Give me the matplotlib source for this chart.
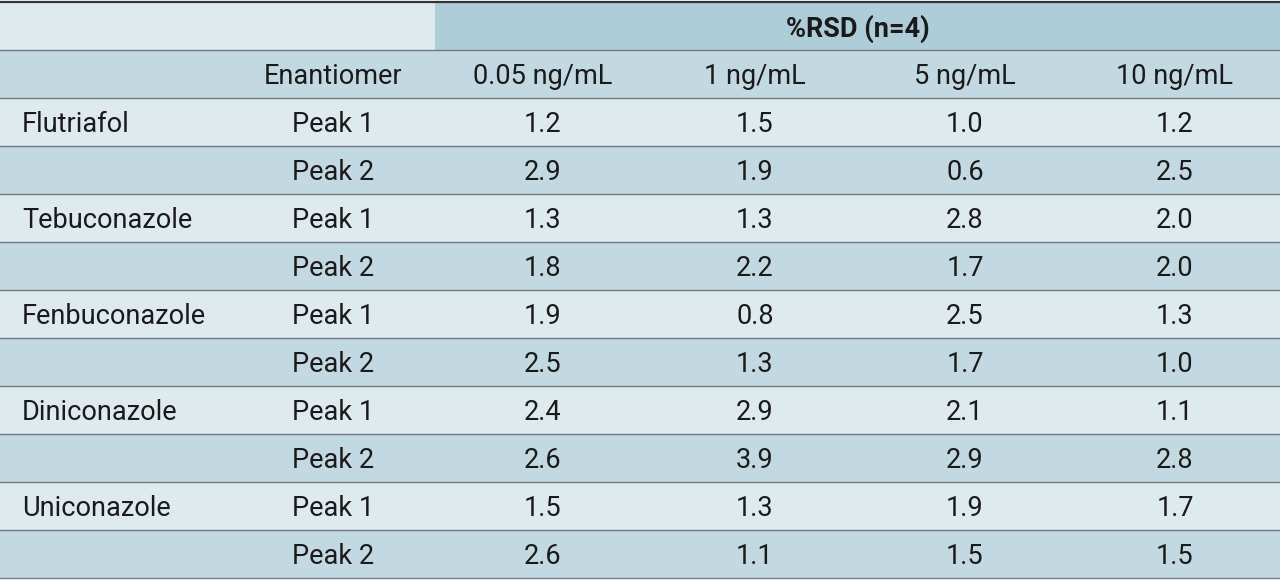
import matplotlib
matplotlib.use("Agg")
import matplotlib.pyplot as plt
import matplotlib.patches as mpatches

compounds = ["Flutriafol", "Tebuconazole", "Fenbuconazole", "Diniconazole", "Uniconazole"]
peaks = ["Peak 1", "Peak 2"]
concs = ["0.05 ng/mL", "1 ng/mL", "5 ng/mL", "10 ng/mL"]
rsd = [
    ["1.2", "1.5", "1.0", "1.2"],
    ["2.9", "1.9", "0.6", "2.5"],
    ["1.3", "1.3", "2.8", "2.0"],
    ["1.8", "2.2", "1.7", "2.0"],
    ["1.9", "0.8", "2.5", "1.3"],
    ["2.5", "1.3", "1.7", "1.0"],
    ["2.4", "2.9", "2.1", "1.1"],
    ["2.6", "3.9", "2.9", "2.8"],
    ["1.5", "1.3", "1.9", "1.7"],
    ["2.6", "1.1", "1.5", "1.5"],
]

LIGHT, MID, DARK = "#dfeaef", "#c3d9e1", "#adcdd8"
W, H = 1280, 582
top, rh = 2, 48
col_x = [435, 650, 860, 1070, 1280]
centers = [(a + b) / 2 for a, b in zip(col_x[:-1], col_x[1:])]
FS = 19.5

fig = plt.figure(figsize=(12.8, 5.82), dpi=100)
ax = fig.add_axes([0, 0, 1, 1])
ax.set_xlim(0, W)
ax.set_ylim(H, 0)
ax.axis("off")
plt.rcParams["font.family"] = ["Roboto", "DejaVu Sans"]


def yrow(i):
    return top + i * rh


def txt(x, i, s, ha="center"):
    ax.text(x, yrow(i) + rh / 2 + 3, s, ha=ha, va="center", fontsize=FS, color="#1a1a1a")


# header row 0
ax.add_patch(mpatches.Rectangle((0, yrow(0)), col_x[0], rh, color=LIGHT, lw=0))
ax.add_patch(mpatches.Rectangle((col_x[0], yrow(0)), W - col_x[0], rh, color=DARK, lw=0))
ax.text((col_x[0] + W) / 2, yrow(0) + rh / 2 + 3, "%RSD (n=4)", ha="center", va="center",
        fontsize=FS, fontweight="bold", color="#1a1a1a")
# header row 1
ax.add_patch(mpatches.Rectangle((0, yrow(1)), W, rh, color=MID, lw=0))
txt(333, 1, "Enantiomer")
for c, s in zip(centers, concs):
    txt(c, 1, s)

for r, vals in enumerate(rsd):
    i = r + 2
    ax.add_patch(mpatches.Rectangle((0, yrow(i)), W, rh, color=LIGHT if r % 2 == 0 else MID, lw=0))
    if r % 2 == 0:
        txt(22, i, compounds[r // 2], ha="left")
    txt(333, i, peaks[r % 2])
    for c, v in zip(centers, vals):
        txt(c, i, v)

for i in range(13):
    ax.axhline(yrow(i), color="#333333" if i == 0 else "#707a80", lw=1.6 if i == 0 else 1.0)

fig.savefig("out.png", dpi=100)
